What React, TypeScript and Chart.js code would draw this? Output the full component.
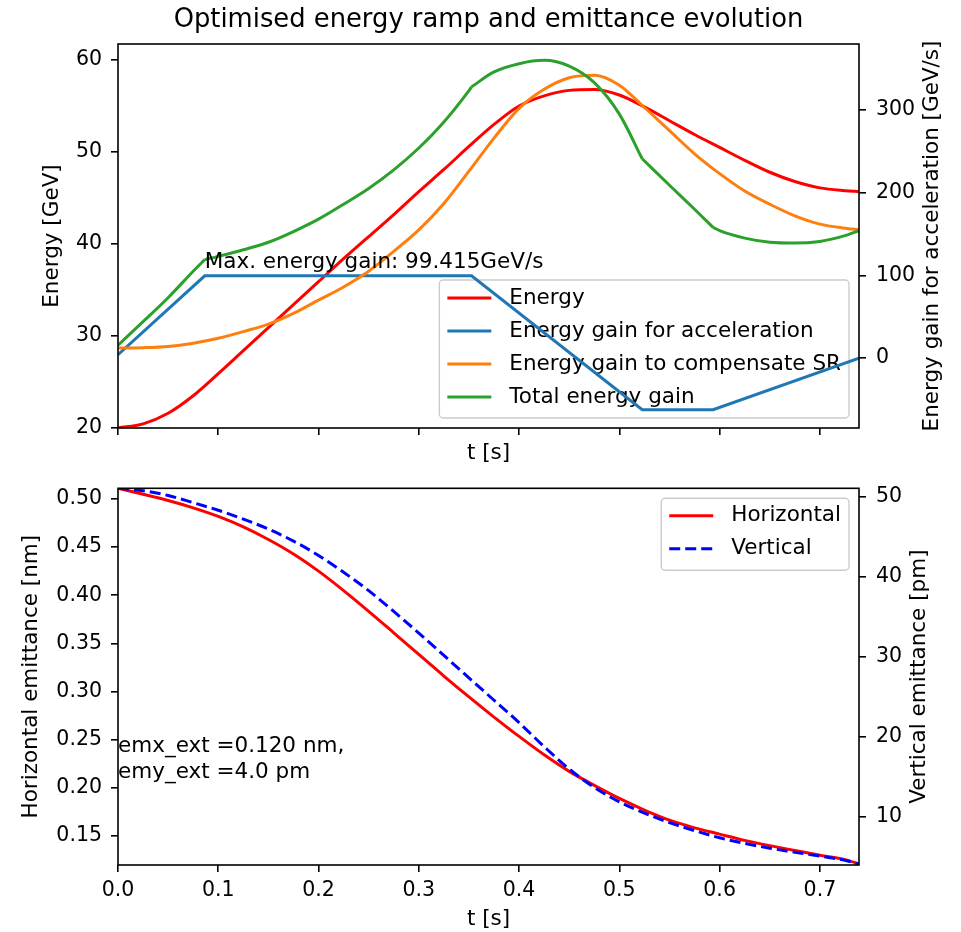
import React, { useEffect, useRef } from "react";
import { Chart, registerables } from "chart.js";

Chart.register(...registerables);

// ---------------- data ----------------
const T_MAX = 0.739;
const T_GRID = [0, 0.025, 0.05, 0.075, 0.1, 0.125, 0.15, 0.175, 0.2, 0.225, 0.25, 0.275, 0.3, 0.325, 0.35, 0.375, 0.4, 0.425, 0.45, 0.475, 0.5, 0.525, 0.55, 0.575, 0.6, 0.625, 0.65, 0.675, 0.7, 0.725, 0.739];

// Energy [GeV]
const ENERGY = [20.0, 20.45, 21.6, 23.5, 25.9, 28.4, 30.9, 33.4, 35.9, 38.4, 40.8, 43.2, 45.7, 48.1, 50.6, 53.0, 55.0, 56.1, 56.7, 56.8, 56.2, 54.9, 53.4, 51.9, 50.5, 49.1, 47.8, 46.8, 46.1, 45.8, 45.7];

// Energy gain to compensate SR [GeV/s]
const SR_GAIN = [12, 12.5, 14, 18, 24, 32, 41, 54, 70, 86, 105, 129, 155, 187, 226, 266, 302, 325, 339, 342, 330, 303, 275, 247, 223, 202, 186, 172, 162, 157, 155];

// Energy gain for acceleration [GeV/s]
const MAX_GAIN = 99.415;
const ACC_T = [0, 0.0865, 0.3526, 0.5228, 0.5935, 0.739];
const ACC_GAIN = [4, MAX_GAIN, MAX_GAIN, -62.5, -62.5, 0];

// Total energy gain [GeV/s]
const TOTAL_T = [0, 0.025, 0.05, 0.075, 0.0865, 0.1, 0.125, 0.15, 0.175, 0.2, 0.225, 0.25, 0.275, 0.3, 0.325, 0.35, 0.3526, 0.375, 0.4, 0.425, 0.45, 0.475, 0.5, 0.5228, 0.55, 0.575, 0.5935, 0.6, 0.625, 0.65, 0.675, 0.7, 0.725, 0.739];
const TOTAL_GAIN = [15.5, 44, 73, 105, 119, 123, 131, 140, 153, 168, 186, 205, 227.5, 254, 285.5, 323.5, 328, 346, 356, 360, 353, 333, 295, 241, 209, 180, 158, 154, 145, 140, 139, 141, 148, 154];

// Emittances
const EMIT_X = [0.511, 0.5048, 0.4983, 0.4907, 0.4818, 0.471, 0.4579, 0.4428, 0.425, 0.4048, 0.3833, 0.361, 0.3385, 0.3161, 0.2944, 0.2735, 0.2534, 0.2343, 0.2171, 0.2026, 0.189, 0.177, 0.1665, 0.1585, 0.152, 0.1455, 0.14, 0.135, 0.13, 0.1255, 0.121];
const EMIT_Y = [51.1, 50.8, 50.2, 49.3, 48.35, 47.25, 46.0, 44.5, 42.7, 40.6, 38.3, 35.7, 33.0, 30.2, 27.4, 24.6, 21.8, 18.8, 16.0, 13.7, 11.9, 10.5, 9.3, 8.3, 7.4, 6.7, 6.1, 5.6, 5.1, 4.6, 4.1];
const EMX_EXT = 0.12;
const EMY_EXT = 4.0;

// ticks / ranges
const T_TICKS = [0, 0.1, 0.2, 0.3, 0.4, 0.5, 0.6, 0.7];
const E_TICKS = [20, 30, 40, 50, 60];
const E_RANGE = [20, 61.74];
const GAIN_TICKS = [0, 100, 200, 300];
const GAIN_RANGE = [-84.6, 379.8];
const EMX_TICKS = [0.15, 0.2, 0.25, 0.3, 0.35, 0.4, 0.45, 0.5];
const EMX_RANGE = [0.1199, 0.511];
const EMY_TICKS = [10, 20, 30, 40, 50];
const EMY_RANGE = [4.0, 51.1];

// annotation anchors (data coords)
const ANNOT_GAIN_POS = [0.0865, 109.4];
const ANNOT_EMIT_POS = [0, 0.25];

// ---------------- styling ----------------
const FAMILY = "'DejaVu Sans', sans-serif";
const FS = 21.5; // labels, legend, annotations
const FS_TICK = 20.5;
const FS_TITLE = 25.8;
const W = 961;
const H1 = 466;
const H2 = 466;

const pts = (xs: number[], ys: number[]) => xs.map((x, i) => ({ x, y: ys[i] }));

// split a polyline into smooth pieces at the corner times (sharp kinks)
function pieces(xs: number[], ys: number[], corners: number[]) {
  const out: { x: number; y: number }[][] = [];
  let cur: { x: number; y: number }[] = [];
  xs.forEach((x, i) => {
    cur.push({ x, y: ys[i] });
    if (corners.includes(x) && i > 0 && i < xs.length - 1) {
      out.push(cur);
      cur = [{ x, y: ys[i] }];
    }
  });
  out.push(cur);
  return out;
}

const gridCfg = {
  display: true,
  drawOnChartArea: false,
  drawTicks: true,
  tickLength: 7,
  tickWidth: 1.6,
  tickColor: "#000",
  color: "#000",
  lineWidth: 1.6,
};

function setTicks(values: number[]) {
  return (scale: any) => {
    scale.ticks = values.map((v) => ({ value: v }));
  };
}

const framePlugin = {
  id: "frameBox",
  afterDatasetsDraw(chart: any) {
    const { ctx, chartArea: a } = chart;
    ctx.save();
    ctx.strokeStyle = "#000";
    ctx.lineWidth = 1.6;
    ctx.strokeRect(a.left, a.top, a.right - a.left, a.bottom - a.top);
    ctx.restore();
  },
};

function rightTitlePlugin(text: string, x: number) {
  return {
    id: "rightTitle",
    afterDraw(chart: any) {
      const { ctx, chartArea: a } = chart;
      ctx.save();
      ctx.translate(x, (a.top + a.bottom) / 2);
      ctx.rotate(-Math.PI / 2);
      ctx.font = `${FS}px ${FAMILY}`;
      ctx.fillStyle = "#000";
      ctx.textAlign = "center";
      ctx.textBaseline = "middle";
      ctx.fillText(text, 0, 0);
      ctx.restore();
    },
  };
}

function drawLegend(chart: any, order: number[], loc: "lowerRight" | "upperRight", rowOffset: number) {
  const { ctx, chartArea: a } = chart;
  const ds = order.map((i) => chart.data.datasets[i]);
  ctx.save();
  ctx.font = `${FS}px ${FAMILY}`;
  const maxW = Math.max(...ds.map((d: any) => ctx.measureText(d.label).width));
  const w = 70 + maxW + 8;
  const n = ds.length;
  const h = 16 + n * 23 + (n - 1) * 10;
  const x = a.right - 10 - w;
  const y = loc === "lowerRight" ? a.bottom - 10 - h : a.top + 10;
  ctx.beginPath();
  ctx.roundRect(x, y, w, h, 4);
  ctx.fillStyle = "rgba(255,255,255,0.8)";
  ctx.fill();
  ctx.strokeStyle = "#cccccc";
  ctx.lineWidth = 1.4;
  ctx.stroke();
  ds.forEach((d: any, i: number) => {
    const cy = y + rowOffset + i * 33;
    ctx.beginPath();
    ctx.setLineDash(d.borderDash || []);
    ctx.strokeStyle = d.borderColor;
    ctx.lineWidth = d.borderWidth || 3;
    ctx.moveTo(x + 8, cy);
    ctx.lineTo(x + 52, cy);
    ctx.stroke();
    ctx.setLineDash([]);
    ctx.fillStyle = "#000";
    ctx.textAlign = "left";
    ctx.textBaseline = "middle";
    ctx.fillText(d.label, x + 70, cy);
  });
  ctx.restore();
}

const topTextPlugin = {
  id: "topText",
  beforeDatasetsDraw(chart: any) {
    // legend belongs to the first (energy) axes: the twin-axis lines are drawn over it
    drawLegend(chart, [0, 1, 2, 3], "lowerRight", 18);
  },
  afterDraw(chart: any) {
    const { ctx, chartArea: a, scales } = chart;
    ctx.save();
    ctx.fillStyle = "#000";
    ctx.font = `${FS_TITLE}px ${FAMILY}`;
    ctx.textAlign = "center";
    ctx.textBaseline = "alphabetic";
    ctx.fillText("Optimised energy ramp and emittance evolution", (a.left + a.right) / 2, 27);
    ctx.font = `${FS}px ${FAMILY}`;
    ctx.textAlign = "left";
    const px = scales.x.getPixelForValue(ANNOT_GAIN_POS[0]);
    const py = scales.yG.getPixelForValue(ANNOT_GAIN_POS[1]);
    ctx.fillText(`Max. energy gain: ${MAX_GAIN.toFixed(3)}GeV/s`, px, py);
    ctx.restore();
  },
};

const bottomTextPlugin = {
  id: "bottomText",
  afterDraw(chart: any) {
    const { ctx, scales } = chart;
    drawLegend(chart, [0, 1], "upperRight", 17.5);
    ctx.save();
    ctx.fillStyle = "#000";
    ctx.font = `${FS}px ${FAMILY}`;
    ctx.textAlign = "left";
    ctx.textBaseline = "alphabetic";
    const px = scales.x.getPixelForValue(ANNOT_EMIT_POS[0]);
    const py = scales.yX.getPixelForValue(ANNOT_EMIT_POS[1]);
    ctx.fillText(`emx_ext =${EMX_EXT.toFixed(3)} nm,`, px, py + 12.5);
    ctx.fillText(`emy_ext =${EMY_EXT.toFixed(1)} pm`, px, py + 38.5);
    ctx.restore();
  },
};

const tickFont = { family: FAMILY, size: FS_TICK };
const labelFont = { family: FAMILY, size: FS };

function topConfig(): any {
  const totalPieces = pieces(TOTAL_T, TOTAL_GAIN, ACC_T.slice(1, -1));
  return {
    type: "line",
    data: {
      datasets: [
        { label: "Energy", data: pts(T_GRID, ENERGY), borderColor: "#ff0000", yAxisID: "yE", cubicInterpolationMode: "monotone", order: 4 },
        { label: "Energy gain for acceleration", data: pts(ACC_T, ACC_GAIN), borderColor: "#1f77b4", yAxisID: "yG", tension: 0, order: 3 },
        { label: "Energy gain to compensate SR", data: pts(T_GRID, SR_GAIN), borderColor: "#ff7f0e", yAxisID: "yG", cubicInterpolationMode: "monotone", order: 2 },
        ...totalPieces.map((p) => ({
          label: "Total energy gain",
          data: p,
          borderColor: "#2ca02c",
          yAxisID: "yG",
          cubicInterpolationMode: "monotone",
          order: 1,
        })),
      ],
    },
    options: {
      animation: false,
      responsive: false,
      maintainAspectRatio: false,
      devicePixelRatio: 1,
      events: [],
      layout: { autoPadding: false, padding: { top: 44, left: 0, right: 0, bottom: 0 } },
      elements: { point: { radius: 0 }, line: { borderWidth: 3, fill: false, borderCapStyle: "butt" } },
      plugins: { legend: { display: false }, tooltip: { enabled: false }, title: { display: false } },
      scales: {
        x: {
          type: "linear",
          position: "bottom",
          min: 0,
          max: T_MAX,
          bounds: "data",
          afterBuildTicks: setTicks(T_TICKS),
          afterFit: (s: any) => { s.height = 38; },
          grid: gridCfg,
          border: { display: false },
          ticks: { display: false, autoSkip: false },
          title: { display: true, text: "t [s]", color: "#000", font: labelFont, padding: { top: 0, bottom: 0 } },
        },
        yE: {
          type: "linear",
          position: "left",
          min: E_RANGE[0],
          max: E_RANGE[1],
          bounds: "data",
          afterBuildTicks: setTicks(E_TICKS),
          afterFit: (s: any) => { s.width = 118; },
          grid: gridCfg,
          border: { display: false },
          ticks: { color: "#000", font: tickFont, padding: 9, autoSkip: false, callback: (v: any) => String(v) },
          title: { display: true, text: "Energy [GeV]", color: "#000", font: labelFont, padding: { top: 40, bottom: 0 } },
        },
        yG: {
          type: "linear",
          position: "right",
          min: GAIN_RANGE[0],
          max: GAIN_RANGE[1],
          bounds: "data",
          afterBuildTicks: setTicks(GAIN_TICKS),
          afterFit: (s: any) => { s.width = 102; },
          grid: gridCfg,
          border: { display: false },
          ticks: { color: "#000", font: tickFont, padding: 10, autoSkip: false, callback: (v: any) => String(v) },
        },
      },
    },
    plugins: [framePlugin, topTextPlugin, rightTitlePlugin("Energy gain for acceleration [GeV/s]", 932)],
  };
}

function bottomConfig(): any {
  return {
    type: "line",
    data: {
      datasets: [
        { label: "Horizontal", data: pts(T_GRID, EMIT_X), borderColor: "#ff0000", yAxisID: "yX", cubicInterpolationMode: "monotone", order: 2 },
        { label: "Vertical", data: pts(T_GRID, EMIT_Y), borderColor: "#0000ff", borderDash: [11, 5], yAxisID: "yY", cubicInterpolationMode: "monotone", order: 1 },
      ],
    },
    options: {
      animation: false,
      responsive: false,
      maintainAspectRatio: false,
      devicePixelRatio: 1,
      events: [],
      layout: { autoPadding: false, padding: { top: 14, left: 0, right: 0, bottom: 0 } },
      elements: { point: { radius: 0 }, line: { borderWidth: 3, fill: false, borderCapStyle: "butt" } },
      plugins: { legend: { display: false }, tooltip: { enabled: false }, title: { display: false } },
      scales: {
        x: {
          type: "linear",
          position: "bottom",
          min: 0,
          max: T_MAX,
          bounds: "data",
          afterBuildTicks: setTicks(T_TICKS),
          afterFit: (s: any) => { s.height = 67; },
          grid: gridCfg,
          border: { display: false },
          ticks: { color: "#000", font: tickFont, padding: 6, autoSkip: false, maxRotation: 0, callback: (v: any) => Number(v).toFixed(1) },
          title: { display: true, text: "t [s]", color: "#000", font: labelFont, padding: { top: 0, bottom: 0 } },
        },
        yX: {
          type: "linear",
          position: "left",
          min: EMX_RANGE[0],
          max: EMX_RANGE[1],
          bounds: "data",
          afterBuildTicks: setTicks(EMX_TICKS),
          afterFit: (s: any) => { s.width = 118; },
          grid: gridCfg,
          border: { display: false },
          ticks: { color: "#000", font: tickFont, padding: 9, autoSkip: false, callback: (v: any) => Number(v).toFixed(2) },
          title: { display: true, text: "Horizontal emittance [nm]", color: "#000", font: labelFont, padding: { top: 19, bottom: 0 } },
        },
        yY: {
          type: "linear",
          position: "right",
          min: EMY_RANGE[0],
          max: EMY_RANGE[1],
          bounds: "data",
          afterBuildTicks: setTicks(EMY_TICKS),
          afterFit: (s: any) => { s.width = 102; },
          grid: gridCfg,
          border: { display: false },
          ticks: { color: "#000", font: tickFont, padding: 10, autoSkip: false, callback: (v: any) => String(v) },
        },
      },
    },
    plugins: [framePlugin, bottomTextPlugin, rightTitlePlugin("Vertical emittance [pm]", 919)],
  };
}

export default function App() {
  const topRef = useRef<HTMLCanvasElement | null>(null);
  const botRef = useRef<HTMLCanvasElement | null>(null);

  useEffect(() => {
    Chart.defaults.font.family = FAMILY;
    const c1 = new Chart(topRef.current as HTMLCanvasElement, topConfig());
    const c2 = new Chart(botRef.current as HTMLCanvasElement, bottomConfig());
    return () => {
      c1.destroy();
      c2.destroy();
    };
  }, []);

  return (
    <div style={{ position: "absolute", left: 0, top: 0, width: W, height: H1 + H2, background: "#ffffff" }}>
      <canvas ref={topRef} width={W} height={H1} style={{ position: "absolute", left: 0, top: 0, width: W, height: H1 }} />
      <canvas ref={botRef} width={W} height={H2} style={{ position: "absolute", left: 0, top: H1, width: W, height: H2 }} />
    </div>
  );
}
